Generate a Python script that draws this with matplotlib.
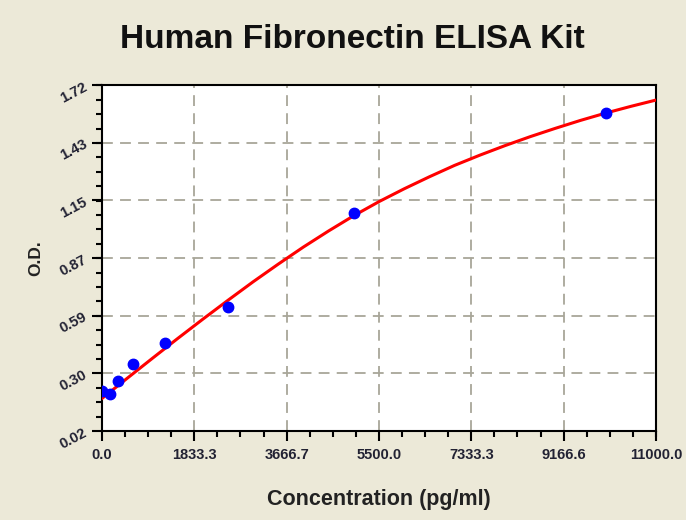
import matplotlib
matplotlib.use('Agg')
import matplotlib.pyplot as plt
from matplotlib.ticker import FixedLocator, AutoMinorLocator

# config
plt.rcParams['font.family'] = ['Liberation Sans', 'DejaVu Sans']

# measured standards
conc = [0.0, 156.25, 312.5, 625.0, 1250.0, 2500.0, 5000.0, 10000.0]
od = [0.215, 0.202, 0.266, 0.349, 0.451, 0.630, 1.093, 1.584]

# fitted curve
curveConc = [0, 500, 1000, 1500, 2000, 2500, 3000, 3500, 4000, 4500, 5000, 5500,
             6000, 6500, 7000, 7500, 8000, 8500, 9000, 9500, 10000, 10500, 11000]
curveOD = [0.180, 0.279, 0.377, 0.474, 0.569, 0.662, 0.753, 0.840, 0.924, 1.003,
           1.078, 1.147, 1.210, 1.269, 1.325, 1.375, 1.422, 1.466, 1.507, 1.546,
           1.582, 1.615, 1.646]

xTicks = [0.0, 1833.3, 3666.7, 5500.0, 7333.3, 9166.6, 11000.0]
xTickLabels = ['0.0', '1833.3', '3666.7', '5500.0', '7333.3', '9166.6', '11000.0']
yTicks = [0.02, 0.303, 0.587, 0.87, 1.153, 1.437, 1.72]
yTickLabels = ['0.02', '0.30', '0.59', '0.87', '1.15', '1.43', '1.72']

fig = plt.figure(figsize=(6.86, 5.2), dpi=100, facecolor='#ECE9D8')
ax = fig.add_axes([102 / 686, 1 - 431 / 520, (656 - 102) / 686, (431 - 85) / 520])
ax.set_facecolor('white')

ax.plot(curveConc, curveOD, '-', color='#FF0000', lw=2.2, zorder=3)
ax.plot(conc, od, 'o', color='#0000FF', ms=7.5, zorder=4)

ax.set_xlim(0, 11000)
ax.set_ylim(0.02, 1.72)
ax.xaxis.set_major_locator(FixedLocator(xTicks))
ax.yaxis.set_major_locator(FixedLocator(yTicks))
ax.xaxis.set_minor_locator(AutoMinorLocator(4))
ax.yaxis.set_minor_locator(AutoMinorLocator(4))
ax.set_xticklabels(xTickLabels, fontsize=10.5, fontweight='bold', color='#222233')
ax.set_yticklabels(yTickLabels, fontsize=10.5, fontweight='bold', color='#222233', rotation=28)

ax.tick_params(which='major', direction='out', length=7, width=1.5, color='black')
ax.tick_params(which='minor', direction='out', length=4, width=1.5, color='black')
ax.tick_params(axis='x', pad=5)
ax.tick_params(axis='y', pad=2)

ax.grid(True, which='major', linestyle=(0, (6, 4)), color='#A8A699', lw=1.3)
for sp in ax.spines.values():
    sp.set_linewidth(1.5)
    sp.set_color('black')

ax.set_xlabel('Concentration (pg/ml)', fontsize=15.5, fontweight='bold', color='#222222', labelpad=20)
ax.set_ylabel('O.D.', fontsize=12.5, fontweight='bold', color='#222222', labelpad=10)
fig.text(352 / 686, 1 - 40 / 520, 'Human Fibronectin ELISA Kit', fontsize=24,
         fontweight='bold', color='#111111', ha='center', va='center')

fig.savefig('out.png', dpi=100, facecolor=fig.get_facecolor())
